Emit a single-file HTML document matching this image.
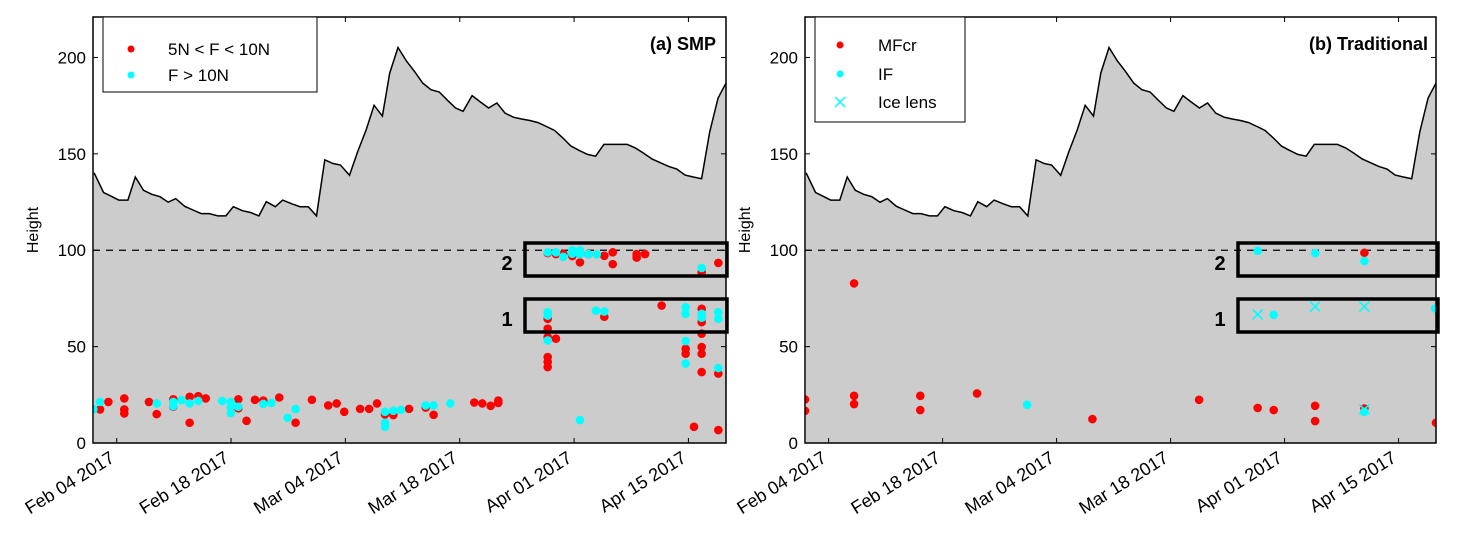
<!DOCTYPE html>
<html><head><meta charset="utf-8"><style>
body{margin:0;background:#fff;width:1457px;height:532px;overflow:hidden}
svg{font-family:"Liberation Sans",sans-serif}
</style></head><body>
<svg id="chart" width="1457" height="532" xmlns="http://www.w3.org/2000/svg"></svg>
<script>
// snow height (days from Feb 04 2017)
const snowDays=[-2.77,-1.6,-0.75,0.26,1.37,2.28,3.28,4.3,5.3,6.31,7.22,8.33,9.34,10.35,11.35,12.37,13.37,14.28,15.39,16.39,17.41,18.32,19.42,20.33,21.44,22.44,23.46,24.46,25.48,26.48,27.39,28.5,29.5,30.52,31.52,32.53,33.43,34.44,35.46,36.46,37.47,38.48,39.49,40.5,41.5,42.41,43.52,44.53,45.54,46.55,47.56,48.57,49.57,50.59,51.59,52.61,53.61,54.62,55.62,56.63,57.63,58.64,59.65,60.65,61.66,62.5,63.5,64.5,65.56,66.56,67.58,68.58,69.59,70.6,71.61,72.61,73.63,74.63];
const snowHeights=[140.2,129.9,128.2,126,126,138,131.1,129,127.8,124.9,126.8,122.8,120.9,119,119,117.8,117.8,122.6,120.5,119.6,117.8,125.2,122.6,126,124.1,122.6,122.6,117.8,146.9,145,144.2,138.9,151,162.2,175.2,169.6,191.9,205.2,198.3,192.8,186.7,183.3,182.1,177.8,173.8,172.1,180.2,176.9,173.8,176.4,171.1,169,168.1,167.3,166.2,164.2,162.1,158.3,154,151.8,149.7,148.8,154.9,154.9,154.9,154.9,153.1,150.4,147.3,145.4,143.5,142.1,139,138,137.1,161.4,179,186.9];
// SMP 5N<F<10N
const redDays=[-2.04,-1.02,0.93,0.93,0.93,3.95,4.9,6.93,6.93,8.93,8.93,9.99,10.9,14.89,14.89,15.9,16.93,17.95,19.9,21.9,23.9,25.9,26.93,27.86,29.8,30.9,31.87,32.85,33.87,35.79,37.83,38.8,43.78,44.76,45.79,46.72,46.72,
 52.77,53.78,54.68,55.78,56.72,57.74,59.7,60.73,60.73,63.66,63.66,64.68,71.62,73.66,
 52.77,52.77,52.77,52.77,52.77,52.77,53.78,59.7,66.72,69.66,69.66,71.62,71.62,71.62,71.62,71.62,71.62,70.68,73.66,73.66];
const redHeights=[17.4,21.3,23.1,17.4,15.3,21.3,15,22.7,18.8,24,10.5,24.3,23.1,22.7,18,11.5,22.4,22,23.6,10.5,22.4,19.5,20.5,16.2,17.7,17.7,20.5,14.8,14.5,17.7,18.4,14.6,21,20.5,19.3,22,20.8,
 98.5,98,98,97,93.7,98,97.1,98.9,92.8,98,96.2,98,88.5,93.4,
 64.4,59.3,54.9,44.6,42,39.4,54.1,65.5,71.3,48.9,46.3,69.6,62.7,56.7,49.8,46.3,36.8,8.4,6.7,36];
// SMP F>10N
const cyanDays=[-2.86,-2.04,4.9,6.93,6.93,7.95,8.93,9.99,12.93,13.96,13.96,13.96,14.89,17.95,18.97,20.93,21.9,32.85,32.85,32.85,33.87,34.8,37.83,38.8,40.85,
 52.77,53.78,54.68,55.78,55.78,56.72,56.72,57.74,58.77,71.62,
 52.77,52.77,52.77,56.72,58.68,59.7,69.66,69.66,69.66,69.66,71.62,71.62,73.66,73.66,73.66];
const cyanHeights=[17.4,21.3,20.5,21.3,19.1,22.2,20.5,21.8,21.8,21.3,18.6,15.5,18.8,20.3,20.8,13.1,17.6,16.2,10.5,8.4,16.7,17.2,19.5,19.5,20.5,
 98.9,98.9,96.6,100,98.2,100,97.9,98,97.8,90.8,
 67.9,66.1,53.2,11.9,68.7,68.2,70.4,67,52.9,41.2,67,65,38.9,67.9,64.4];
// Traditional
const mfDays=[-2.9,-2.9,3.13,3.13,3.13,11.26,11.26,18.23,32.4,45.5,52.7,54.67,59.75,59.75,65.8,65.8,74.6];
const mfHeights=[22.6,16.7,82.8,24.5,20.2,24.5,17.1,25.7,12.4,22.4,18.2,17.1,19.3,11.4,98.7,17.9,10.5];
const ifDays=[24.37,52.7,54.67,59.75,65.8,65.8,74.5];
const ifHeights=[19.8,99.7,66.5,98.5,94.4,16.2,69.8];
const iceDays=[52.7,59.75,65.8,65.8];
const iceHeights=[66.7,70.8,70.8,17.5];
const yTicks=[0,50,100,150,200];
const xTickDays=[0,14,28,42,56,70];
const xTickLabels=["Feb 04 2017","Feb 18 2017","Mar 04 2017","Mar 18 2017","Apr 01 2017","Apr 15 2017"];

const NS="http://www.w3.org/2000/svg";
const svg=document.getElementById('chart');
function mk(tag,attrs,parent,text){const e=document.createElementNS(NS,tag);for(const k in attrs)e.setAttribute(k,attrs[k]);if(text!==undefined)e.textContent=text;(parent||svg).appendChild(e);return e;}

function panel(id,L,R,T,B){
  const d0=-2.9,d1=74.6,h1=221;
  const X=d=>L+(d-d0)/(d1-d0)*(R-L);
  const Y=h=>B-h/h1*(B-T);
  const g=mk('g',{},svg);
  
  
  const cp=mk('clipPath',{id:'cp'+id},g);mk('rect',{x:L,y:T,width:R-L,height:B-T},cp);
  let dstr='M'+X(snowDays[0])+','+B;
  snowDays.forEach((d,i)=>dstr+=' L'+X(d).toFixed(1)+','+Y(snowHeights[i]).toFixed(1));
  dstr+=' L'+X(snowDays[snowDays.length-1])+','+B+' Z';
  const area=mk('path',{d:dstr,fill:'#cccccc','clip-path':'url(#cp'+id+')'},g);
  
  
  let ls='';snowDays.forEach((d,i)=>ls+=(i?' L':'M')+X(d).toFixed(1)+','+Y(snowHeights[i]).toFixed(1));
  const line=mk('path',{d:ls,fill:'none',stroke:'#000','stroke-width':1.5,'clip-path':'url(#cp'+id+')'},g);
  
  
  const dash=mk('line',{x1:L,x2:R,y1:Y(100),y2:Y(100),stroke:'#000','stroke-dasharray':'7,6','stroke-width':1.2},g);
  
  
  yTicks.forEach(t=>{
    mk('line',{x1:L,x2:L+5,y1:Y(t),y2:Y(t),stroke:'#000'},g);
    mk('line',{x1:R-5,x2:R,y1:Y(t),y2:Y(t),stroke:'#000'},g);
    const tl=mk('text',{x:L-7,y:Y(t)+6,'text-anchor':'end','font-size':17},g,String(t));
    
    
  });
  xTickDays.forEach((d,i)=>{
    mk('line',{x1:X(d),x2:X(d),y1:B-5,y2:B,stroke:'#000'},g);
    mk('line',{x1:X(d),x2:X(d),y1:T,y2:T+5,stroke:'#000'},g);
    const tl=mk('text',{transform:'translate('+(X(d)-1)+','+(B+18)+') rotate(-32)','text-anchor':'end','font-size':18},g,xTickLabels[i]);
    
    
  });
  const yt=mk('text',{transform:'translate('+(L-55)+','+((T+B)/2)+') rotate(-90)','text-anchor':'middle','font-size':16},g,'Height');
  
  
  return {g,X,Y,L,R,T,B};
}
function dots(p,days,hs,color,name){
  days.forEach((d,i)=>{
    const c=mk('circle',{cx:p.X(d),cy:p.Y(hs[i]),r:4.3,fill:color,'clip-path':'url(#cp'+(p.id)+')'},p.g);
    
    
  });
}
function frame(p,boxesX){
  [[243,276,'2',262],[299,332,'1',318]].forEach(b=>{
    const r=mk('rect',{x:boxesX[0],y:b[0],width:boxesX[1]-boxesX[0],height:b[1]-b[0],fill:'none',stroke:'#000','stroke-width':3.5},p.g);
    
    
    const t=mk('text',{x:boxesX[0]-18,y:b[3]+8,'text-anchor':'middle','font-size':20,'font-weight':'bold'},p.g,b[2]);
    
    
  });
  const f=mk('rect',{x:p.L,y:p.T,width:p.R-p.L,height:p.B-p.T,fill:'none',stroke:'#000','stroke-width':1.5},p.g);
  
  
}
const pa=panel('a',93,726,17,443);pa.id='a';
dots(pa,redDays,redHeights,'#ff0000','smp-5-10n-point');
dots(pa,cyanDays,cyanHeights,'#00ffff','smp-over-10n-point');
frame(pa,[525,727]);
const la=mk('g',{},pa.g);
mk('rect',{x:103,y:17,width:214,height:75,fill:'#fff',stroke:'#000','stroke-width':1},la);
mk('circle',{cx:131,cy:49,r:3.5,fill:'#ff0000'},la);
mk('text',{x:168,y:55,'font-size':17},la,'5N < F < 10N');
mk('circle',{cx:131,cy:75,r:3.5,fill:'#00ffff'},la);
mk('text',{x:168,y:81,'font-size':17},la,'F > 10N');
const ta=mk('text',{x:716,y:50,'text-anchor':'end','font-size':18,'font-weight':'bold'},pa.g,'(a) SMP');

const pb=panel('b',805,1436,17,443);pb.id='b';
dots(pb,mfDays,mfHeights,'#ff0000','mfcr-point');
dots(pb,ifDays,ifHeights,'#00ffff','if-point');
iceDays.forEach((d,i)=>{
  const x=pb.X(d),y=pb.Y(iceHeights[i]);
  const m=mk('path',{d:`M${x-5},${y-5}L${x+5},${y+5}M${x-5},${y+5}L${x+5},${y-5}`,stroke:'#00ffff','stroke-width':1.6,fill:'none'},pb.g);
  
  
});
frame(pb,[1238,1438]);
const lb=mk('g',{},pb.g);
mk('rect',{x:815,y:17,width:150,height:105,fill:'#fff',stroke:'#000','stroke-width':1},lb);
mk('circle',{cx:840,cy:45,r:3.5,fill:'#ff0000'},lb);
mk('text',{x:878,y:51,'font-size':17},lb,'MFcr');
mk('circle',{cx:840,cy:74,r:3.5,fill:'#00ffff'},lb);
mk('text',{x:878,y:80,'font-size':17},lb,'IF');
mk('path',{d:'M835,97L845,107M835,107L845,97',stroke:'#00ffff','stroke-width':1.5},lb);
mk('text',{x:878,y:108,'font-size':17},lb,'Ice lens');
const tb=mk('text',{x:1428,y:50,'text-anchor':'end','font-size':18,'font-weight':'bold'},pb.g,'(b) Traditional');

</script>
</body></html>
